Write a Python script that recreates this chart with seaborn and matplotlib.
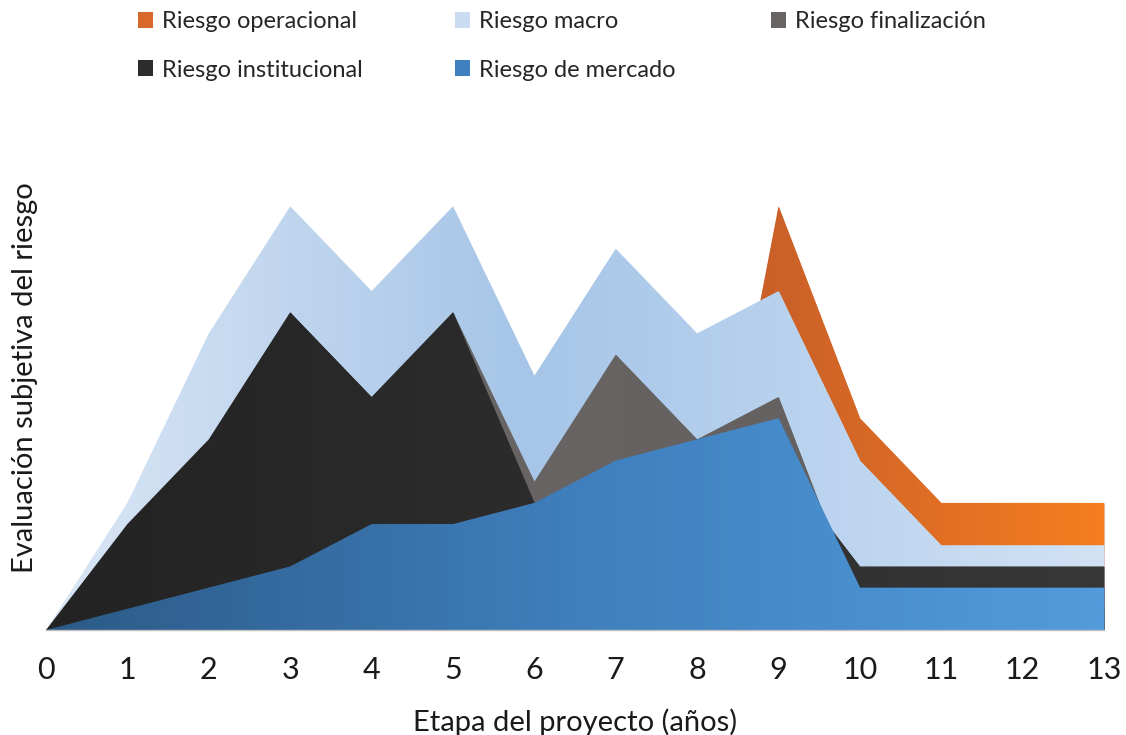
import numpy as np
import pandas as pd
import matplotlib
matplotlib.use("Agg")
import matplotlib.pyplot as plt
import seaborn as sns
from matplotlib.colors import LinearSegmentedColormap
from matplotlib.patches import Patch

# ---------------- data ----------------
etapas = list(range(14))
riesgo_operacional = [0, 0, 0, 0, 0, 0, 0, 0, 0, 20, 10, 6, 6, 6]
riesgo_macro = [0, 6, 14, 20, 16, 20, 12, 18, 14, 16, 8, 4, 4, 4]
riesgo_finalizacion = [0, 3, 6, 10, 8, 15, 7, 13, 9, 11, 1, 1, 1, 1]
riesgo_institucional = [0, 5, 9, 15, 11, 15, 6, 7, 8, 8, 3, 3, 3, 3]
riesgo_mercado = [0, 1, 2, 3, 5, 5, 6, 8, 9, 10, 2, 2, 2, 2]

nombres = ["Riesgo operacional", "Riesgo macro", "Riesgo finalización",
           "Riesgo institucional", "Riesgo de mercado"]

df = pd.DataFrame({
    "etapa": etapas,
    nombres[0]: riesgo_operacional,
    nombres[1]: riesgo_macro,
    nombres[2]: riesgo_finalizacion,
    nombres[3]: riesgo_institucional,
    nombres[4]: riesgo_mercado,
})

gradientes = {
    nombres[0]: [(0.0, "#b84a22"), (0.62, "#c65a2a"), (0.70, "#cc6128"), (1.0, "#f57e20")],
    nombres[1]: [(0.0, "#dbe7f6"), (0.45, "#a6c5e7"), (0.75, "#bcd4ef"), (1.0, "#d2e2f4")],
    nombres[2]: [(0.0, "#6d6969"), (1.0, "#625e5e")],
    nombres[3]: [(0.0, "#242323"), (1.0, "#383737")],
    nombres[4]: [(0.0, "#2c5a86"), (0.5, "#3f7fbd"), (1.0, "#529cdc")],
}
legend_colors = ["#d8692a", "#c9dcf2", "#686464", "#2d2c2c", "#3f80c0"]

# ---------------- plot ----------------
sns.set_theme(style="white")
plt.rcParams["font.family"] = ["Lato", "DejaVu Sans"]

fig = plt.figure(figsize=(11.26, 7.35), dpi=100)
ax = fig.add_axes([46 / 1126, 105 / 735, 1058 / 1126, 466 / 735])

YMAX = 22
for i, name in enumerate(nombres):
    z = 2 + i
    poly = ax.fill_between(df["etapa"], 0, df[name], color=legend_colors[i],
                           linewidth=0, zorder=z)
    cmap = LinearSegmentedColormap.from_list(name, gradientes[name])
    img = ax.imshow(np.linspace(0, 1, 512).reshape(1, -1), cmap=cmap,
                    extent=[0, 13, 0, YMAX], aspect="auto", zorder=z + 0.5,
                    interpolation="bilinear")
    img.set_clip_path(poly.get_paths()[0], transform=ax.transData)

ax.set_xlim(0, 13)
ax.set_ylim(0, YMAX)
ax.set_aspect("auto")
ax.set_xticks(etapas)
ax.set_xticklabels([str(e) for e in etapas], fontsize=22, color="#1a1a1a")
ax.set_yticks([])
ax.tick_params(axis="x", direction="out", length=10, width=1, color="#bfbfbf", pad=9)
sns.despine(ax=ax, left=True, top=True, right=True)
ax.spines["bottom"].set_color("#bfbfbf")
ax.spines["bottom"].set_linewidth(1)
ax.spines["bottom"].set_zorder(10)

ax.set_xlabel("Etapa del proyecto (años)", fontsize=21, color="#1a1a1a", labelpad=17)
fig.text(25 / 1126, 1 - 378 / 735, "Evaluación subjetiva del riesgo", rotation=90,
         ha="center", va="center", fontsize=21, color="#1a1a1a")

# legend: three columns placed at fixed positions, rows filled left to right
col_x = [138, 455, 771]
columnas = [[0, 3], [1, 4], [2]]
for cx, idxs in zip(col_x, columnas):
    hs = [Patch(facecolor=legend_colors[k], edgecolor="none") for k in idxs]
    ls = [nombres[k] for k in idxs]
    fig.legend(hs, ls, loc="upper left", bbox_to_anchor=(cx / 1126, 1 - 11 / 735),
               frameon=False, fontsize=17, handlelength=0.65, handleheight=0.65,
               handletextpad=0.35, labelspacing=1.17, borderpad=0.0,
               borderaxespad=0.0)

fig.savefig("out.png", dpi=100, facecolor="white")
